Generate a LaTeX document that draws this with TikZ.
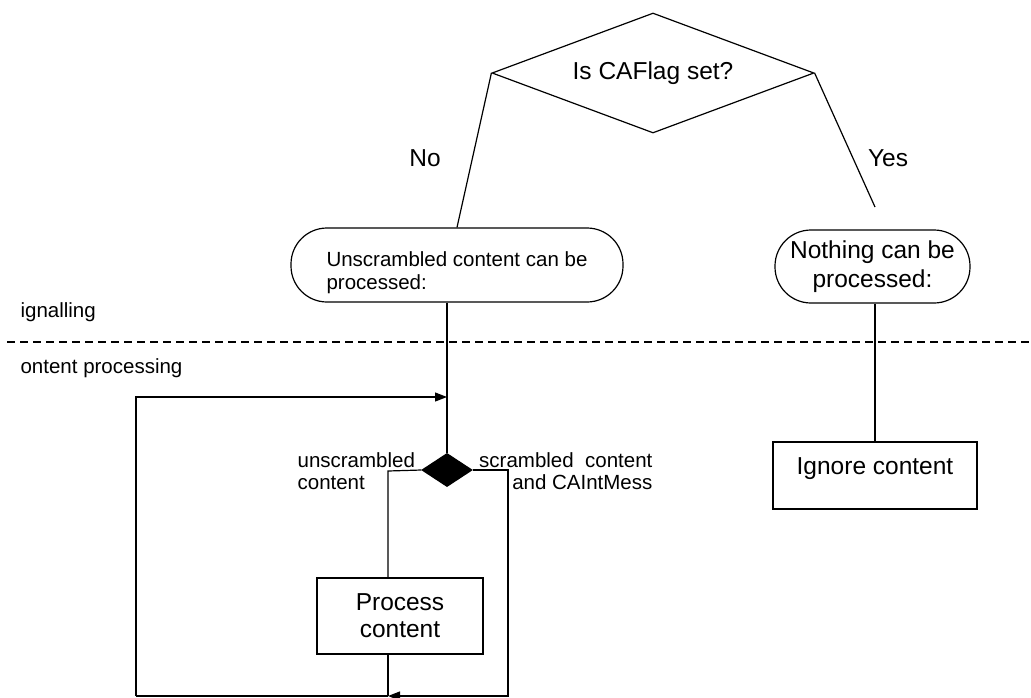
\documentclass[tikz,border=0pt]{standalone}
\usepackage{fontspec}
\setmainfont{Liberation Sans}
\usetikzlibrary{shapes.geometric,arrows.meta}
\begin{document}
\begin{tikzpicture}[x=1pt,y=-1pt, line width=1.2pt,
  big/.style={font=\fontsize{24.5}{27}\selectfont},
  small/.style={font=\fontsize{20.5}{22.5}\selectfont},
  decision/.style={draw, shape=diamond, aspect=2.683, inner sep=0pt, minimum width=322pt, minimum height=120pt},
  rbox/.style={draw, rounded corners=36pt, inner sep=4pt},
  pbox/.style={draw, inner sep=4pt},
  merge/.style={draw, fill=black, shape=diamond, inner sep=0pt, minimum width=50pt, minimum height=33pt},
  lbl/.style={inner sep=0pt},
  tip/.style={-{Triangle[length=12pt,width=9pt]}},
  lane/.style={dash pattern=on 8pt off 5pt}]
\useasboundingbox (0,0) rectangle (1031,697);

\node[decision, big] (q) at (653,73) {Is CAFlag set?};
\node[rbox, small, align=left, minimum width=332pt, minimum height=74pt, text height=53pt, text depth=5pt] (ub) at (457,265) {Unscrambled content can be\\processed:};
\node[rbox, font=\fontsize{24.5}{28.5}\selectfont, align=center, minimum width=195pt, minimum height=73pt] (nb) at (872.5,266.5) {Nothing can be\\processed:};
\node[pbox, big, minimum width=204pt, minimum height=67pt, text height=17.5pt, text depth=20.5pt] (ig) at (875,475.5) {Ignore content};
\node[pbox, big, align=center, minimum width=166pt, minimum height=76pt] (pc) at (400,616) {Process\\content};
\node[merge] (sd) at (447,470) {};

\node[big] (no) at (425,158) {No};
\node[big] (yes) at (888,158) {Yes};
\node[small, lbl, anchor=base west] (sig) at (20,317) {ignalling};
\node[small, lbl, anchor=base west] (cp) at (20,373) {ontent processing};
\node[small, lbl, anchor=north west, align=left] (ul) at (297,452) {unscrambled\\content};
\node[small, lbl, anchor=north east, align=right] (sl) at (653,452) {scrambled\ \ content\\and CAIntMess};

\coordinate (dl) at (7,342);
\coordinate (dr) at (1031,342);
\draw[lane] (dl) -- (dr);

\coordinate (yend) at (875,207);
\draw (q.west) -- (ub.north);
\draw (q.east) -- (yend);
\draw (ig.north |- nb.south) -- (ig.north);

\draw (sd.north |- ub.south) -- (sd.north);
\coordinate (lt) at (136,397);
\coordinate (lb) at (136,696);
\draw[tip] (lb) -- (lt) -- (sd.north |- lt);

\coordinate (ll) at (388,471);
\draw (sd.west) -- (ll) -- (ll |- pc.north);
\coordinate (pb) at (388,696);
\draw (ll |- pc.south) -- (pb);
\coordinate (rr) at (508,470);
\draw[tip] (sd.east) -- (rr) -- (rr |- pb) -- (pb);
\draw (lb) -- (pb);
\end{tikzpicture}
\end{document}
